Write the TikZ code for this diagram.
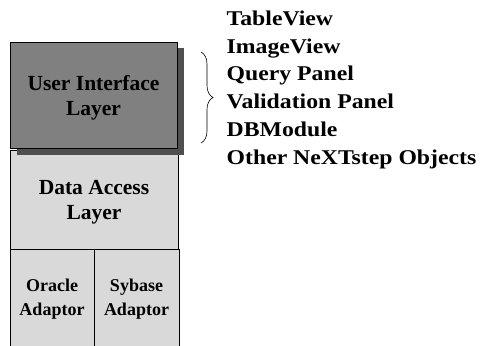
\documentclass[tikz,border=0pt]{standalone}
\usepackage{fontspec}
\setmainfont{Liberation Serif}
\newfontfamily\listfont{Liberation Serif}[FakeStretch=1.13]
\usetikzlibrary{decorations.pathreplacing}
\definecolor{uigray}{HTML}{808080}
\definecolor{shadowgray}{HTML}{4F4F4F}
\definecolor{lightgray2}{HTML}{D9D9D9}
\tikzset{
  layer/.style={draw=black, line width=0.8pt, inner sep=0pt},
  layerlabel/.style={inner sep=0pt, align=center,
    font=\fontsize{21.5}{25}\selectfont\bfseries},
  adaptorlabel/.style={inner sep=0pt, align=center,
    font=\fontsize{18}{24}\selectfont\bfseries},
  listtext/.style={anchor=north west, align=left, inner sep=0pt,
    font=\listfont\fontsize{21}{27.8}\selectfont\bfseries},
  bracestyle/.style={draw=black, line width=0.6pt,
    decorate, decoration={brace, amplitude=12pt, aspect=0.5}}
}
\begin{document}
\begin{tikzpicture}[x=1pt, y=-1pt]
\clip (0,0) rectangle (481,345);
\fill[white] (0,0) rectangle (481,345);
% lower layers
\node[layer, fill=lightgray2, minimum width=84pt, minimum height=101pt] (oracle) at (52,299.5) {};
\node[layer, fill=lightgray2, minimum width=85pt, minimum height=101pt] (sybase) at (136.5,299.5) {};
\node[adaptorlabel] (oraclelabel) at (oracle.center) {Oracle\\Adaptor};
\node[adaptorlabel] (sybaselabel) at (sybase.center) {Sybase\\Adaptor};
\node[layer, fill=lightgray2, minimum width=168pt, minimum height=99pt] (data) at (94,199.5) {};
\node[layerlabel] (datalabel) at ([yshift=-3pt]data.center) {Data Access\\Layer};
% user interface layer with shadow
\node[fill=shadowgray, minimum width=167pt, minimum height=106pt, inner sep=0pt] (uishadow) at (100.5,101.5) {};
\node[layer, fill=uigray, minimum width=167pt, minimum height=106pt] (ui) at (93.5,95) {};
\node[layerlabel] (uilabel) at ([yshift=-3pt]ui.center) {User Interface\\Layer};
% brace and list
\coordinate (bracetop) at (201,52);
\coordinate (bracebot) at (201,143);
\draw[bracestyle] (bracetop) -- (bracebot);
\node[listtext] (list) at (226.5,10.5) {TableView\\ImageView\\Query Panel\\Validation Panel\\DBModule\\Other NeXTstep Objects};
\end{tikzpicture}
\end{document}
